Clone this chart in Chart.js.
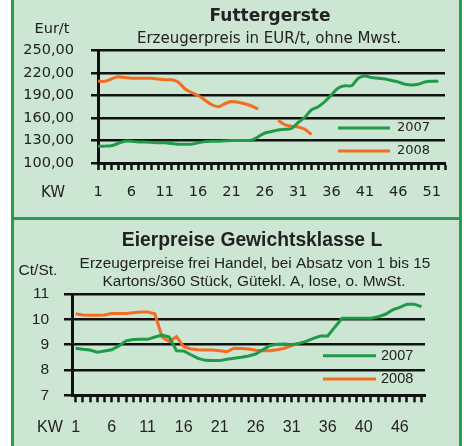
<!DOCTYPE html>
<html>
<head>
<meta charset="utf-8">
<script src="https://cdn.jsdelivr.net/npm/chart.js@4.4.1/dist/chart.umd.min.js"></script>
<style>
  body { margin: 0; background: #fff; }
  #frame { position: absolute; left: 11px; top: 0; width: 445px; height: 446px;
    border-left: 3px solid #2e9a4f; border-right: 3px solid #2e9a4f; background: #cde6d4; }
  #sep { height: 3px; background: #2e9a4f; }
  canvas { display: block; }
</style>
</head>
<body>
<div id="frame">
  <canvas id="gerste" width="445" height="217"></canvas>
  <div id="sep"></div>
  <canvas id="eier" width="445" height="226"></canvas>
</div>
<script>
// Futtergerste, EUR/t, per Kalenderwoche
const gersteWeeks = ['1','2','3','4','5','6','7','8','9','10','11','12','13','14','15','16','17','18','19','20',
  '21','22','23','24','25','26','27','28','29','30','31','32','33','34','35','36','37','38','39','40',
  '41','42','43','44','45','46','47','48','49','50','51','52','53'];
const gerste2007 = [122.5,122.5,123,126,129,129,128,128,127.5,127,127,126,125,125,125,127,128.5,129,129,129.5,
  130,130,130,130.5,135,140,142,144,145,146,154,161,171,175,182,191,200,203,203,213,
  216,214,213,212,210,208,205,204,205,208,209,209];
const gerste2008 = [209,209,212,215,214,213,213,213,213,212,211,211,208,199,194,190,184,178,175,179,
  182,181,179,176,172,null,null,157,151,149,148,145,138];
const gersteTickLabels = ['1','6','11','16','21','26','31','36','41','46','51'];

// Eierpreise Gewichtsklasse L, Ct/St.
const eierWeeks = ['1','2','3','4','5','6','7','8','9','10','11','12','13','14','15','16','17','18','19','20',
  '21','22','23','24','25','26','27','28','29','30','31','32','33','34','35','36','37','38','39','40',
  '41','42','43','44','45','46','47','48','49'];
const eier2007 = [8.86,8.82,8.79,8.70,8.75,8.80,8.95,9.15,9.20,9.21,9.21,9.30,9.38,9.30,8.76,8.75,8.60,8.46,8.38,8.37,
  8.37,8.42,8.46,8.50,8.55,8.63,8.80,8.97,9.02,9.03,9.00,9.05,9.13,9.25,9.34,9.34,9.70,10.04,10.04,10.04,
  10.04,10.04,10.10,10.20,10.37,10.47,10.60,10.60,10.50];
const eier2008 = [10.22,10.17,10.16,10.16,10.17,10.23,10.23,10.23,10.26,10.29,10.29,10.22,9.30,9.12,9.32,8.92,8.83,8.80,8.79,8.79,
  8.76,8.72,8.86,8.85,8.83,8.78,8.76,8.76,8.80,8.86,8.96,9.05];
const eierTickLabels = ['1','6','11','16','21','26','31','36','40','46'];

const GREEN = '#1f9a49';
const ORANGE = '#f26d22';
const INK = '#222';

// titles, unit labels and the small legend inside the plot
const panelText = {
  id: 'panelText',
  afterDraw(chart, args, opts) {
    const ctx = chart.ctx;
    ctx.save();
    ctx.fillStyle = INK;
    ctx.textBaseline = 'middle';
    opts.texts.forEach(t => {
      ctx.font = t.font;
      ctx.textAlign = t.align || 'center';
      ctx.fillText(t.text, t.x, t.y);
    });
    const lg = opts.legend;
    chart.data.datasets.forEach((ds, i) => {
      const y = lg.y + i * lg.gap;
      ctx.strokeStyle = ds.borderColor;
      ctx.lineWidth = 3;
      ctx.beginPath();
      ctx.moveTo(lg.x, y);
      ctx.lineTo(lg.x + lg.len, y);
      ctx.stroke();
      ctx.font = lg.font;
      ctx.textAlign = 'left';
      ctx.fillText(ds.label, lg.x + lg.len + lg.pad, y);
    });
    ctx.restore();
  }
};

function everyFifth(labels) {
  return function(val, i) {
    return i % 5 === 0 ? (labels[i / 5] || '') : '';
  };
}

new Chart(document.getElementById('gerste'), {
  type: 'line',
  data: {
    labels: gersteWeeks,
    datasets: [
      { label: '2007', data: gerste2007, borderColor: GREEN, borderWidth: 3, pointRadius: 0, tension: 0.3, fill: false },
      { label: '2008', data: gerste2008, borderColor: ORANGE, borderWidth: 3, pointRadius: 0, tension: 0.3, fill: false, spanGaps: false }
    ]
  },
  options: {
    responsive: false,
    animation: false,
    layout: { padding: { top: 50.5, right: 6, left: 0, bottom: 0 } },
    scales: {
      x: {
        afterFit: s => { s.height = 54; },
        grid: { drawOnChartArea: false, tickLength: 7, tickWidth: 2.5, tickColor: '#111' },
        border: { color: '#111', width: 3 },
        ticks: {
          autoSkip: false, maxRotation: 0, padding: 14, color: INK,
          font: { family: 'DejaVu Sans', size: 14.5 },
          callback: everyFifth(gersteTickLabels)
        }
      },
      y: {
        min: 100, max: 250,
        afterFit: s => { s.width = 84; },
        grid: { color: '#111', lineWidth: 2.5, tickLength: 7 },
        border: { color: '#111', width: 3 },
        ticks: {
          stepSize: 30, padding: 17, color: INK,
          font: { family: 'DejaVu Sans', size: 14.5 },
          callback: v => v.toFixed(2).replace('.', ',')
        }
      }
    },
    plugins: {
      legend: { display: false },
      tooltip: { enabled: false },
      panelText: {
        texts: [
          { text: 'Futtergerste', x: 256, y: 17, font: 'bold 17px "DejaVu Sans"' },
          { text: 'Erzeugerpreis in EUR/t, ohne Mwst.', x: 255, y: 39, font: '15px "DejaVu Sans"' },
          { text: 'Eur/t', x: 38, y: 29, font: '14.5px "DejaVu Sans"' },
          { text: 'KW', x: 39, y: 193, font: '15px "DejaVu Sans"' }
        ],
        legend: { x: 324, y: 128, gap: 23, len: 52, pad: 7, font: '13px "DejaVu Sans"' }
      }
    }
  },
  plugins: [panelText]
});

new Chart(document.getElementById('eier'), {
  type: 'line',
  data: {
    labels: eierWeeks,
    datasets: [
      { label: '2007', data: eier2007, borderColor: GREEN, borderWidth: 3, pointRadius: 0, tension: 0, fill: false },
      { label: '2008', data: eier2008, borderColor: ORANGE, borderWidth: 3, pointRadius: 0, tension: 0, fill: false }
    ]
  },
  options: {
    responsive: false,
    animation: false,
    layout: { padding: { top: 74, right: 34, left: 0, bottom: 0 } },
    scales: {
      x: {
        offset: true,
        afterFit: s => { s.height = 50.7; },
        grid: { drawOnChartArea: false, offset: false, tickLength: 7, tickWidth: 2.5, tickColor: '#111' },
        border: { color: '#111', width: 3 },
        ticks: {
          autoSkip: false, maxRotation: 0, padding: 16, color: INK,
          font: { family: 'Liberation Sans', size: 16 },
          callback: everyFifth(eierTickLabels)
        }
      },
      y: {
        min: 7, max: 11,
        afterFit: s => { s.width = 58; },
        grid: { color: '#111', lineWidth: 2.5, tickLength: 8 },
        border: { color: '#111', width: 3 },
        ticks: {
          stepSize: 1, padding: 15, color: INK,
          font: { family: 'Liberation Sans', size: 15.5 }
        }
      }
    },
    plugins: {
      legend: { display: false },
      tooltip: { enabled: false },
      panelText: {
        texts: [
          { text: 'Eierpreise Gewichtsklasse L', x: 238, y: 21, font: 'bold 19.3px "Liberation Sans"' },
          { text: 'Erzeugerpreise frei Handel, bei Absatz von 1 bis 15', x: 241, y: 44, font: '15.4px "Liberation Sans"' },
          { text: 'Kartons/360 Stück, Gütekl. A, lose, o. MwSt.', x: 240, y: 62, font: '15.4px "Liberation Sans"' },
          { text: 'Ct/St.', x: 24, y: 51, font: '15.5px "Liberation Sans"' },
          { text: 'KW', x: 36, y: 208, font: '16px "Liberation Sans"' }
        ],
        legend: { x: 309, y: 135.7, gap: 23.3, len: 53, pad: 5, font: '14.5px "Liberation Sans"' }
      }
    }
  },
  plugins: [panelText]
});
</script>
</body>
</html>
